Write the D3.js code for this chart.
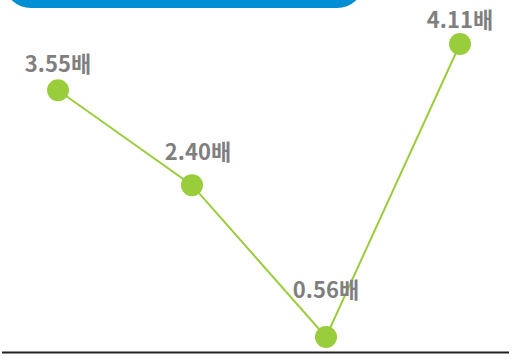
<!DOCTYPE html>
<html>
<head>
<meta charset="utf-8">
<script src="https://cdn.jsdelivr.net/npm/d3@7"></script>
<style>
  html, body { margin: 0; padding: 0; background: #fff; }
  svg { display: block; }
</style>
</head>
<body>
<div id="chart"></div>
<script>
// data
var categories = ["a", "b", "c", "d"];
var values = [3.55, 2.40, 0.56, 4.11];
var labels = ["3.55배", "2.40배", "0.56배", "4.11배"];

// label placement (layout only)
var labelDy = [-18, -25, -39, -16];
var labelDx = [0, 6, 0, 0];

var width = 528, height = 362;

var svg = d3.select("#chart").append("svg")
  .attr("width", width)
  .attr("height", height);

// top banner (cut off by the frame)
svg.append("rect")
  .attr("x", 5)
  .attr("y", -40)
  .attr("width", 358)
  .attr("height", 48)
  .attr("rx", 26)
  .attr("fill", "#008fd5");

var x = d3.scalePoint()
  .domain(categories)
  .range([58, 460]);

var y = d3.scaleLinear()
  .domain([0.56, 4.11])
  .range([337, 44]);

// baseline
svg.append("line")
  .attr("x1", 2).attr("x2", 509)
  .attr("y1", 352.5).attr("y2", 352.5)
  .attr("stroke", "#222")
  .attr("stroke-width", 2);

var pts = categories.map(function (c, i) {
  return {cat: c, v: values[i], label: labels[i], dy: labelDy[i], dx: labelDx[i]};
});

var line = d3.line()
  .x(function (d) { return x(d.cat); })
  .y(function (d) { return y(d.v); });

svg.append("path")
  .datum(pts)
  .attr("d", line)
  .attr("fill", "none")
  .attr("stroke", "#9acd3c")
  .attr("stroke-width", 2);

svg.selectAll("circle.pt")
  .data(pts)
  .enter().append("circle")
  .attr("class", "pt")
  .attr("cx", function (d) { return x(d.cat); })
  .attr("cy", function (d) { return y(d.v); })
  .attr("r", 11)
  .attr("fill", "#9acd3c");

svg.selectAll("text.lbl")
  .data(pts)
  .enter().append("text")
  .attr("class", "lbl")
  .attr("x", function (d) { return x(d.cat) + d.dx; })
  .attr("y", function (d) { return y(d.v) + d.dy; })
  .attr("text-anchor", "middle")
  .style("font-family", "'Noto Sans CJK KR', 'Noto Sans', sans-serif")
  .style("font-weight", "bold")
  .style("font-size", "22px")
  .style("fill", "#7f7f7f")
  .text(function (d) { return d.label; });
</script>
</body>
</html>
